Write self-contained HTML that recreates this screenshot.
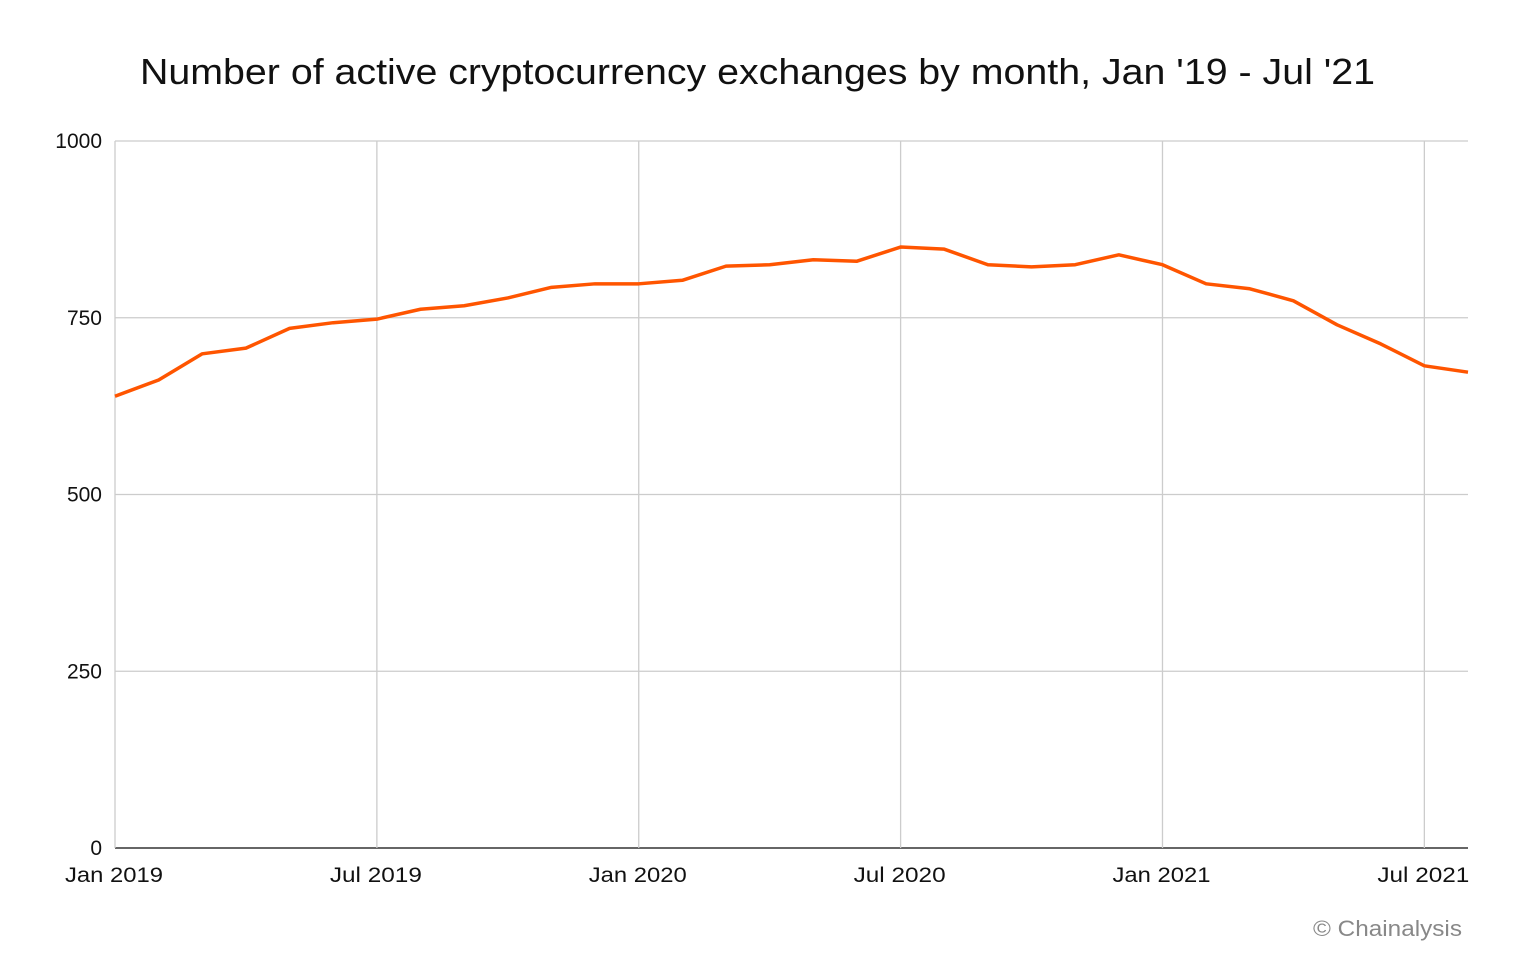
<!DOCTYPE html>
<html><head><meta charset="utf-8">
<style>
html,body{margin:0;padding:0;background:#fff;}
svg{display:block;font-family:"Liberation Sans",sans-serif;}
</style></head>
<body>
<svg id="chart" width="1516" height="958" viewBox="0 0 1516 958">
<text x="140" y="84" font-size="36" fill="#111" textLength="1235" lengthAdjust="spacingAndGlyphs">Number of active cryptocurrency exchanges by month, Jan '19 - Jul '21</text>
<g id="grid"></g>
<g id="series"></g>
<text x="1313" y="936" font-size="22" fill="#888" textLength="149" lengthAdjust="spacingAndGlyphs">© Chainalysis</text>
</svg>
<script>
const values = [639,662,699,707,735,743,748,762,767,778,793,798,798,803,823,825,832,830,850,847,825,822,825,839,825,798,791,774,740,713,682,673];
const yTicks = [0,250,500,750,1000];
const xTickLabels = ["Jan 2019","Jul 2019","Jan 2020","Jul 2020","Jan 2021","Jul 2021"];
const xTickIndex = [0,6,12,18,24,30];

const NS="http://www.w3.org/2000/svg";
const x0=115,x1=1468,y0=848,y1=141;
const xs=i=>x0+i*(x1-x0)/(values.length-1);
const ys=v=>y0-(v/1000)*(y0-y1);
function mk(tag,attrs,parent){const e=document.createElementNS(NS,tag);for(const k in attrs)e.setAttribute(k,attrs[k]);parent.appendChild(e);return e;}
const grid=document.getElementById('grid'),series=document.getElementById('series');
yTicks.forEach(t=>{
  const y=ys(t);
  const l=mk('line',{x1:x0,x2:x1,y1:y,y2:y,stroke:t===0?'#333':'#ccc','stroke-width':t===0?1.5:1.3},grid);
  
  
  const tx=mk('text',{x:102,y:y+7,'text-anchor':'end','font-size':21,fill:'#111'},grid);
  tx.textContent=t;
  
  
});
const ya=mk('line',{x1:x0,x2:x0,y1:y1,y2:y0,stroke:'#ccc','stroke-width':1.3},grid);


xTickIndex.forEach((idx,k)=>{
  const x=xs(idx);
  if(idx>0){const l=mk('line',{x1:x,x2:x,y1:y1,y2:y0,stroke:'#ccc','stroke-width':1.3},grid);
  
  }
  const w=xTickLabels[k].startsWith('Jan')?98:92;
  const tx=mk('text',{x:x-1-w/2,y:882,'font-size':21,fill:'#111',textLength:w,lengthAdjust:'spacingAndGlyphs'},grid);
  tx.textContent=xTickLabels[k];
  
  
});
const p=mk('polyline',{points:values.map((v,i)=>xs(i)+','+ys(v)).join(' '),fill:'none',stroke:'#ff5500','stroke-width':3.5,'stroke-linejoin':'round'},series);


</script>
</body></html>
